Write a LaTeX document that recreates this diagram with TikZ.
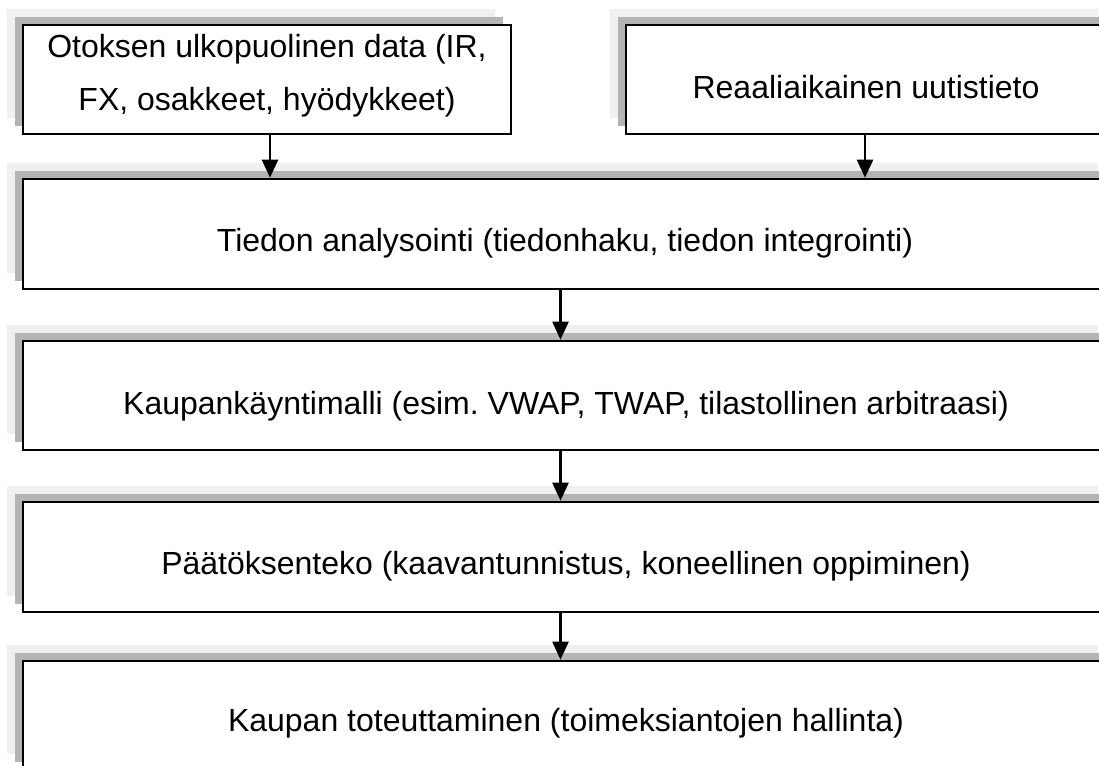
\documentclass[tikz,border=0pt]{standalone}
\usepackage{fontspec}
\setmainfont{Liberation Sans}
\usetikzlibrary{shadows, arrows.meta, positioning, calc}
\frenchspacing

\definecolor{shadelight}{RGB}{240,240,240}
\definecolor{shademid}{RGB}{180,180,180}

\tikzset{
    stagebox/.style={draw, line width=2.6pt, fill=white, rectangle, inner sep=0pt,
        general shadow={fill=shadelight, shadow xshift=-16pt, shadow yshift=16pt},
        general shadow={fill=shademid, shadow xshift=-8pt, shadow yshift=8pt}},
    stagetext/.style={font=\fontsize{32}{53}\selectfont, align=center, inner sep=0pt},
    flowarrow/.style={line width=2.4pt, -{Triangle[width=16pt,length=18pt]}}
}

\begin{document}
\begin{tikzpicture}[x=1pt, y=-1pt]
            \useasboundingbox (0,0) rectangle (1099,765);
            \clip (0,0) rectangle (1099,765);

            % input boxes
            \node[stagebox, minimum width=488pt, minimum height=109pt] (B1) at (267,79.5) {};
            \node[stagebox, minimum width=488pt, minimum height=109pt] (B2) at (870,79.5) {};

            % processing stages
            \node[stagebox, minimum width=1091pt, minimum height=110pt] (B3) at (568.5,234) {};
            \node[stagebox, minimum width=1091pt, minimum height=109pt] (B4) at (568.5,395.5) {};
            \node[stagebox, minimum width=1091pt, minimum height=110pt] (B5) at (568.5,557) {};
            \node[stagebox, minimum width=1091pt, minimum height=109pt] (B6) at (568.5,715.5) {};

            \node[stagetext] (T1) at (267,76) {Otoksen ulkopuolinen data (IR,\\FX, osakkeet, hyödykkeet)};
            \node[stagetext] (T2) at (866,87) {Reaaliaikainen uutistieto};
            \node[stagetext] (T3) at (565,243) {Tiedon analysointi (tiedonhaku, tiedon integrointi)};
            \node[stagetext] (T4) at (566,406) {Kaupankäyntimalli (esim. VWAP, TWAP, tilastollinen arbitraasi)};
            \node[stagetext] (T5) at (566,566) {Päätöksenteko (kaavantunnistus, koneellinen oppiminen)};
            \node[stagetext] (T6) at (566,723) {Kaupan toteuttaminen (toimeksiantojen hallinta)};

            \draw[flowarrow] ([xshift=3pt]B1.south) -- ([xshift=3pt]B1.south |- B3.north);
            \draw[flowarrow] ([xshift=-5pt]B2.south) -- ([xshift=-5pt]B2.south |- B3.north);
            \draw[flowarrow] ([xshift=-8pt]B3.south) -- ([xshift=-8pt]B4.north);
            \draw[flowarrow] ([xshift=-8pt]B4.south) -- ([xshift=-8pt]B5.north);
            \draw[flowarrow] ([xshift=-8pt]B5.south) -- ([xshift=-8pt]B6.north);

\end{tikzpicture}
\end{document}
